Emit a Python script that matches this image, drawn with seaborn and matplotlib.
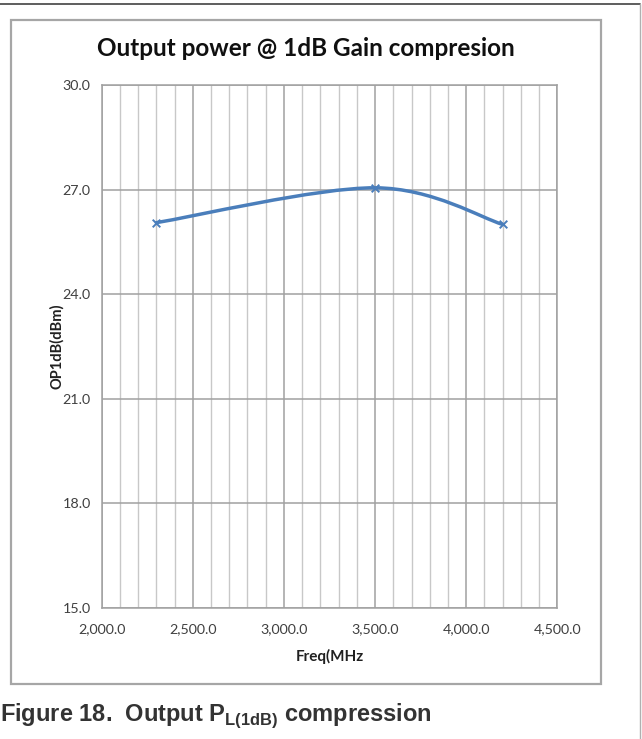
import numpy as np
import matplotlib
matplotlib.use("Agg")
import matplotlib.pyplot as plt
from matplotlib.path import Path
from matplotlib.patches import PathPatch, Rectangle
from matplotlib.lines import Line2D
from matplotlib.ticker import MultipleLocator, FuncFormatter
import seaborn as sns

sns.set_style("white")
plt.rcParams['font.family'] = ['Lato', 'DejaVu Sans']

# data
freq_mhz = [2300, 3500, 4200]
op1db_dbm = [26.05, 27.05, 26.0]

title = "Output power @ 1dB Gain compresion"
xlabel = "Freq(MHz"
ylabel = "OP1dB(dBm)"
caption = "Figure 18.  Output P$_\\mathregular{L(1dB)}$ compression"

line_blue = "#4a7ebb"


def smooth_path(xs, ys):
    # excel style smoothed line: catmull-rom turned into bezier segments
    pts = np.column_stack([xs, ys]).astype(float)
    ext = np.vstack([pts[0], pts, pts[-1]])
    verts = [pts[0]]
    codes = [Path.MOVETO]
    for i in range(len(pts) - 1):
        p0, p1, p2, p3 = ext[i], ext[i + 1], ext[i + 2], ext[i + 3]
        verts += [p1 + (p2 - p0) / 6, p2 - (p3 - p1) / 6, p2]
        codes += [Path.CURVE4] * 3
    return Path(verts, codes)


fig = plt.figure(figsize=(6.42, 7.39), dpi=100)
ax = fig.add_axes([101.7 / 642, 1 - 607.7 / 739, 455.6 / 642, 522.7 / 739])

# page lines and chart frame
fig.add_artist(Line2D([0, 640 / 642], [1 - 4 / 739] * 2, color="#505050", lw=1.3))
fig.add_artist(Line2D([640 / 642] * 2, [0, 1 - 4 / 739], color="#b0b0b0", lw=1.0))
fig.add_artist(Rectangle((11 / 642, 1 - 684 / 739), 590 / 642, 664 / 739,
                         fill=False, ec="#a6a6a6", lw=1.6))

ax.set_xlim(2000, 4500)
ax.set_ylim(15, 30)
ax.xaxis.set_major_locator(MultipleLocator(500))
ax.xaxis.set_minor_locator(MultipleLocator(100))
ax.yaxis.set_major_locator(MultipleLocator(3))
ax.xaxis.set_major_formatter(FuncFormatter(lambda v, p: f"{v:,.1f}"))
ax.yaxis.set_major_formatter(FuncFormatter(lambda v, p: f"{v:.1f}"))
ax.grid(which="major", axis="both", color="#a0a0a0", lw=1.1)
ax.grid(which="minor", axis="x", color="#c8c8c8", lw=1.0)
ax.set_axisbelow(True)
for s in ax.spines.values():
    s.set_color("#a0a0a0")
    s.set_linewidth(1.1)
ax.tick_params(which="both", length=0, labelsize=10.3, colors="#404040")
ax.tick_params(axis="x", pad=11)
ax.tick_params(axis="y", pad=8)

ax.add_patch(PathPatch(smooth_path(freq_mhz, op1db_dbm), fill=False,
                       ec=line_blue, lw=2.5, capstyle="round", zorder=3))
sns.scatterplot(x=freq_mhz, y=op1db_dbm, marker="x", color=line_blue, s=30,
                linewidth=1.4, zorder=4, ax=ax)

ax.set_xlabel(xlabel, fontsize=11, fontweight="bold", color="#202020", labelpad=10)
ax.set_ylabel(ylabel, fontsize=10.5, fontweight="bold", color="#202020", labelpad=-1)
fig.text(306 / 642, 1 - 48 / 739, title, ha="center", va="center",
         fontsize=17.5, fontweight="bold", color="#101010")
fig.text(0, 1 - 716 / 739, caption, ha="left", va="center",
         fontsize=17, fontweight="bold", color="#333333",
         family=["Liberation Sans", "DejaVu Sans"])

fig.savefig("out.png", dpi=100)
